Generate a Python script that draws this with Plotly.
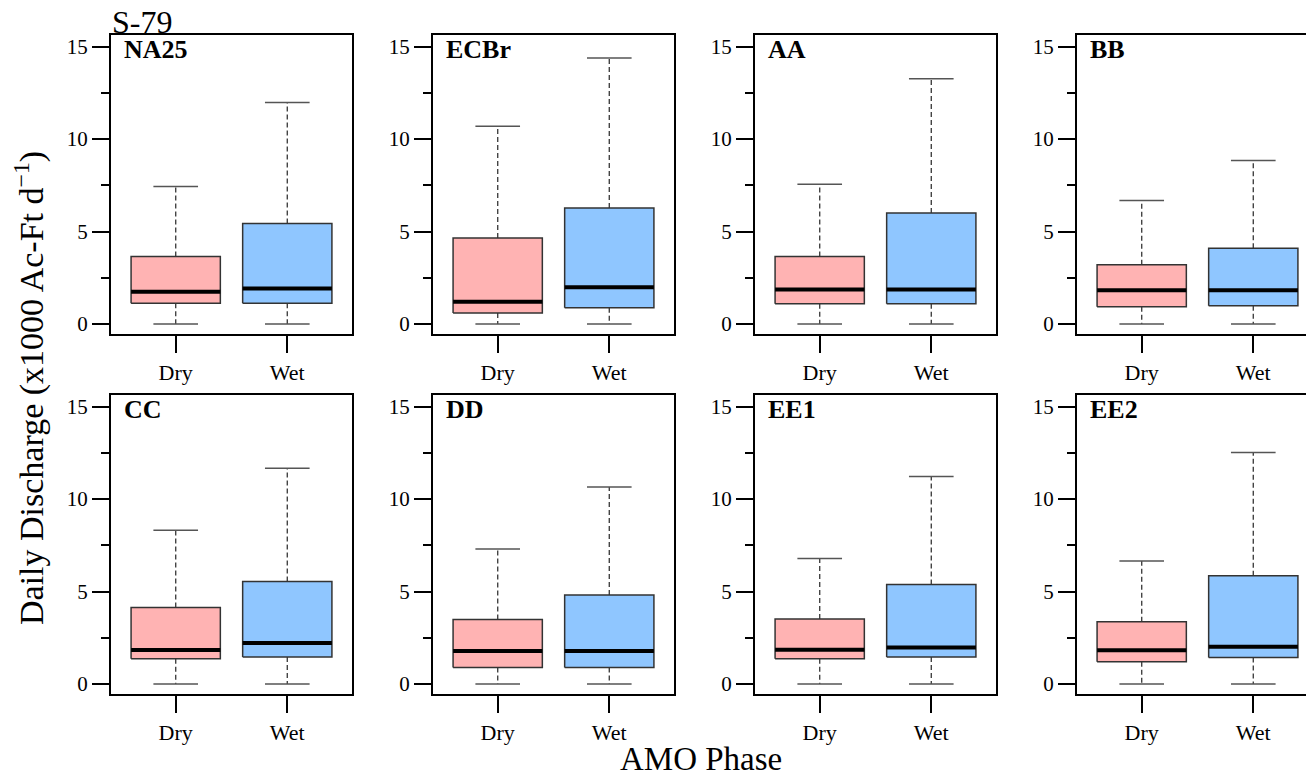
import plotly.graph_objects as go

# ---------------- data ----------------
stations = ["NA25", "ECBr", "AA", "BB", "CC", "DD", "EE1", "EE2"]
phases = ["Dry", "Wet"]

dry_lower = [0, 0, 0, 0, 0, 0, 0, 0]
dry_q1 = [1.12, 0.59, 1.10, 0.93, 1.36, 0.90, 1.36, 1.20]
dry_med = [1.74, 1.20, 1.87, 1.82, 1.84, 1.79, 1.86, 1.83]
dry_q3 = [3.65, 4.65, 3.65, 3.20, 4.14, 3.49, 3.52, 3.37]
dry_upper = [7.44, 10.69, 7.56, 6.67, 8.31, 7.30, 6.79, 6.65]

wet_lower = [0, 0, 0, 0, 0, 0, 0, 0]
wet_q1 = [1.12, 0.88, 1.10, 0.99, 1.46, 0.90, 1.46, 1.43]
wet_med = [1.92, 1.98, 1.87, 1.82, 2.22, 1.79, 1.97, 2.01]
wet_q3 = [5.43, 6.27, 6.00, 4.10, 5.55, 4.81, 5.38, 5.85]
wet_upper = [11.97, 14.38, 13.26, 8.84, 11.67, 10.66, 11.22, 12.52]

y_ticks = [0, 5, 10, 15]

# ---------------- layout constants ----------------
# The page body has an 8px margin, so the figure is drawn 8px in from the
# window's top-left corner; all pixel positions below are in window pixels.
OFF = 8
W, H = 1314 - 2 * OFF, 778 - 2 * OFF
FONT = "Liberation Serif"
panel_left = [111, 433, 755, 1077]
panel_w = 241
row_top = [35, 396]
row_bot = [335, 696]
px_per_unit_x = panel_w / 2.16
BOX_W = 0.8
CAP_W = 0.4
colors = ["#FFB3B3", "#8FC6FF"]


def fx(px):
    return (px - OFF) / W


def fy(py):
    return 1 - (py - OFF) / H


fig = go.Figure()

for i, st in enumerate(stations):
    r, c = divmod(i, 4)
    k = i + 1
    xa = "x" if k == 1 else f"x{k}"
    ya = "y" if k == 1 else f"y{k}"
    groups = [
        (dry_lower[i], dry_q1[i], dry_med[i], dry_q3[i], dry_upper[i]),
        (wet_lower[i], wet_q1[i], wet_med[i], wet_q3[i], wet_upper[i]),
    ]
    for j, (lo, q1, med, q3, up) in enumerate(groups):
        xc = j + 1
        common = dict(xaxis=xa, yaxis=ya, showlegend=False, hoverinfo="skip", mode="lines")
        # dashed whiskers
        fig.add_trace(go.Scatter(x=[xc, xc, None, xc, xc], y=[q3, up, None, q1, lo],
                                 line=dict(color="#444444", width=1.4, dash="5px,3px"), **common))
        # caps
        fig.add_trace(go.Scatter(x=[xc - CAP_W / 2, xc + CAP_W / 2, None, xc - CAP_W / 2, xc + CAP_W / 2],
                                 y=[up, up, None, lo, lo],
                                 line=dict(color="#555555", width=1.5), **common))
        # box
        fig.add_trace(go.Scatter(x=[xc - BOX_W / 2, xc + BOX_W / 2, xc + BOX_W / 2, xc - BOX_W / 2, xc - BOX_W / 2],
                                 y=[q1, q1, q3, q3, q1], fill="toself", fillcolor=colors[j],
                                 line=dict(color="#333333", width=1.5), **common))
        # median
        fig.add_trace(go.Scatter(x=[xc - BOX_W / 2, xc + BOX_W / 2], y=[med, med],
                                 line=dict(color="black", width=4), **common))

    left = panel_left[c]
    right = min(left + panel_w, OFF + W)
    xmax = 0.42 + (right - left) / px_per_unit_x
    xkey = "xaxis" if k == 1 else f"xaxis{k}"
    ykey = "yaxis" if k == 1 else f"yaxis{k}"
    fig.layout[xkey] = dict(
        domain=[fx(left), fx(right)], range=[0.42, xmax], anchor=ya,
        tickmode="array", tickvals=[1, 2], ticktext=phases,
        ticks="outside", ticklen=17, tickwidth=2, tickcolor="black",
        showline=True, linewidth=2, linecolor="black", mirror=True,
        showgrid=False, zeroline=False, fixedrange=True,
        tickfont=dict(family=FONT, size=22, color="black"),
    )
    fig.layout[ykey] = dict(
        domain=[fy(row_bot[r]), fy(row_top[r])], range=[-0.55, 15.63], anchor=xa,
        tickmode="array", tickvals=y_ticks,
        ticks="outside", ticklen=17, tickwidth=2, tickcolor="black",
        minor=dict(dtick=2.5, tick0=0, ticks="outside", ticklen=8, tickwidth=2, tickcolor="black"),
        showline=True, linewidth=2, linecolor="black", mirror=(c != 3),
        showgrid=False, zeroline=False, fixedrange=True,
        tickfont=dict(family=FONT, size=21, color="black"),
    )
    fig.add_annotation(text=f"<b>{st}</b>", xref="paper", yref="paper",
                       x=fx(left + 11), y=fy(row_top[r] + 15),
                       xanchor="left", yanchor="middle", showarrow=False,
                       font=dict(family=FONT, size=26, color="black"))

fig.add_annotation(text="S-79", xref="paper", yref="paper", x=fx(110), y=fy(22),
                   xanchor="left", yanchor="middle", showarrow=False,
                   font=dict(family=FONT, size=32, color="black"))
fig.add_annotation(text="Daily Discharge (x1000 Ac-Ft d<sup>−1</sup>)", xref="paper", yref="paper",
                   x=fx(29), y=fy(389), xanchor="center", yanchor="middle", textangle=-90,
                   showarrow=False, font=dict(family=FONT, size=34, color="black"))
fig.add_annotation(text="AMO Phase", xref="paper", yref="paper", x=fx(701), y=fy(761),
                   xanchor="center", yanchor="middle", showarrow=False,
                   font=dict(family=FONT, size=33, color="black"))

fig.update_layout(width=W, height=H, margin=dict(l=0, r=0, t=0, b=0),
                  font=dict(family=FONT, color="black"),
                  paper_bgcolor="white", plot_bgcolor="white", showlegend=False)

fig.write_html("out.html")
